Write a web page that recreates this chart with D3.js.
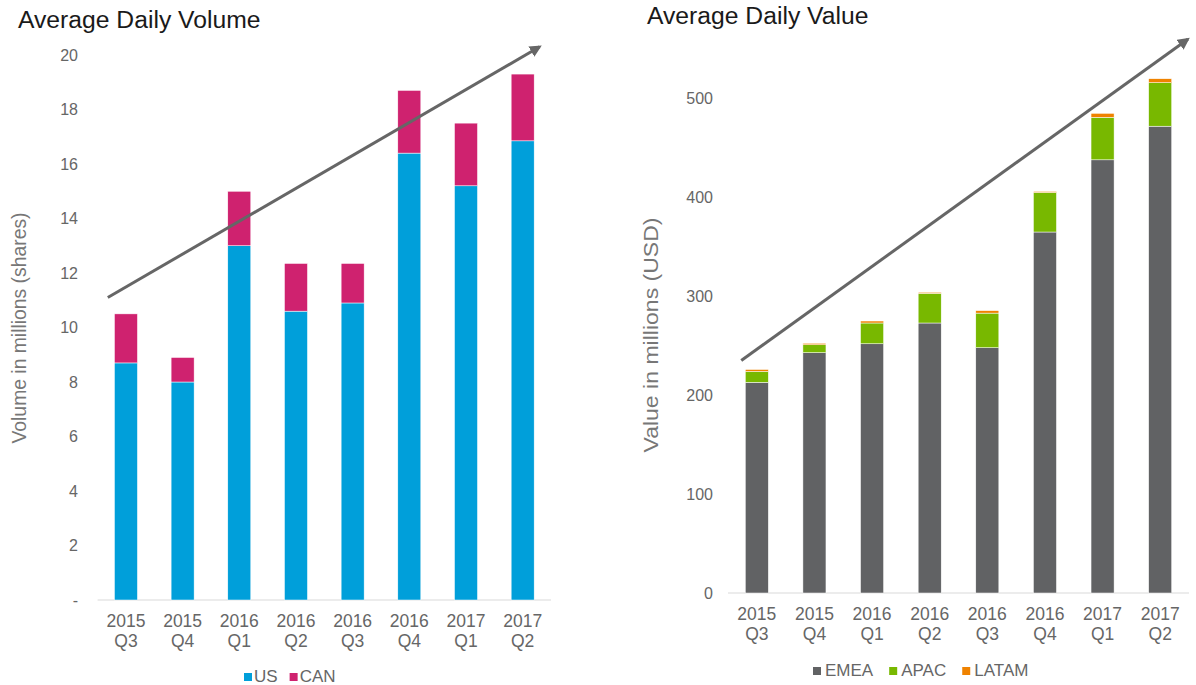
<!DOCTYPE html>
<html lang="en">
  <head>
    <meta charset="UTF-8" />
    <title>Average Daily Volume and Value</title>
    <script src="https://d3js.org/d3.v7.min.js"></script>
    <style>
      body {
        margin: 0;
        background: #fff;
        font-family: "Liberation Sans", Arial, sans-serif;
      }
      .tick text {
        fill: #666;
        font-size: 16px;
      }
    </style>
  </head>
  <body>
    <svg width="1196" height="685"></svg>
    <script>
      const quarters = ["2015 Q3", "2015 Q4", "2016 Q1", "2016 Q2", "2016 Q3", "2016 Q4", "2017 Q1", "2017 Q2"];

      // left chart, millions of shares
      const us = [8.7, 8.0, 13.0, 10.6, 10.9, 16.4, 15.2, 16.85];
      const can = [1.8, 0.9, 2.0, 1.75, 1.45, 2.3, 2.3, 2.45];
      const volumeTicks = [0, 2, 4, 6, 8, 10, 12, 14, 16, 18, 20];

      // right chart, millions of USD
      const emea = [213, 243, 252, 273, 248, 365, 438, 472];
      const apac = [11, 8, 21, 30, 35, 40, 43, 44];
      const latam = [2, 1.5, 2, 1, 2.5, 1, 4, 4];
      const valueTicks = [0, 100, 200, 300, 400, 500];

      // trend arrows: [band index, value]
      const volumeTrend = [[-0.32, 11.1], [7.3, 20.3]];
      const valueTrend = [[-0.27, 235], [7.48, 560]];

      const svg = d3.select("svg");

      svg.append("defs").append("marker")
        .attr("id", "arrow")
        .attr("viewBox", "0 0 10 10")
        .attr("refX", 8).attr("refY", 5)
        .attr("markerWidth", 4).attr("markerHeight", 4)
        .attr("orient", "auto")
        .append("path")
        .attr("d", "M0,0 L10,5 L0,10 z")
        .attr("fill", "#666");

      function drawChart(opt) {
        const g = svg.append("g");
        const x = d3.scaleBand()
          .domain(quarters)
          .range(opt.xRange)
          .paddingInner(opt.pad)
          .paddingOuter(opt.pad / 2);
        const y = d3.scaleLinear().domain([0, opt.max]).range(opt.yRange);

        const rows = quarters.map((q, i) => {
          const r = { q };
          opt.series.forEach((s) => (r[s.key] = s.values[i]));
          return r;
        });
        const stacked = d3.stack().keys(opt.series.map((s) => s.key))(rows);

        // baseline
        g.append("line")
          .attr("x1", opt.xRange[0]).attr("x2", opt.xRange[1])
          .attr("y1", y(0)).attr("y2", y(0))
          .attr("stroke", "#d9d9d9").attr("stroke-width", 1);

        stacked.forEach((layer, k) => {
          g.append("g").selectAll("rect")
            .data(layer)
            .join("rect")
            .attr("x", (d) => x(d.data.q))
            .attr("width", x.bandwidth())
            .attr("y", (d) => y(d[1]))
            .attr("height", (d) => y(d[0]) - y(d[1]))
            .attr("fill", opt.series[k].color)
            .attr("stroke", "#fff")
            .attr("stroke-width", 0.5);
        });

        // y axis
        const ya = g.append("g")
          .attr("transform", `translate(${opt.yAxisX},0)`)
          .call(d3.axisLeft(y).tickValues(opt.ticks).tickSize(0).tickPadding(0).tickFormat(opt.fmt));
        ya.select(".domain").remove();

        // x axis, two-line labels
        const xa = g.append("g")
          .attr("transform", `translate(0,${y(0)})`)
          .call(d3.axisBottom(x).tickSize(0).tickFormat(""));
        xa.select(".domain").remove();
        xa.selectAll(".tick").each(function (d) {
          const parts = d.split(" ");
          const t = d3.select(this).select("text")
            .attr("y", 27).attr("dy", null)
            .attr("fill", "#666").style("font-size", "17.5px");
          t.append("tspan").attr("x", 0).attr("dy", 0).text(parts[0]);
          t.append("tspan").attr("x", 0).attr("dy", 20).text(parts[1]);
        });

        // title
        svg.append("text")
          .attr("x", opt.titleX).attr("y", opt.titleY)
          .attr("font-size", 24.7).attr("fill", "#1a1a1a")
          .text(opt.title);

        // y label
        svg.append("text")
          .attr("transform", `translate(${opt.labelX},${opt.labelY}) rotate(-90)`)
          .attr("text-anchor", "middle")
          .attr("font-size", opt.labelSize).attr("fill", "#777")
          .attr("textLength", opt.labelLength)
          .attr("lengthAdjust", "spacingAndGlyphs")
          .text(opt.yLabel);

        // trend arrow
        const pos = (i) => x(quarters[0]) + x.bandwidth() / 2 + i * x.step();
        g.append("line")
          .attr("x1", pos(opt.trend[0][0])).attr("y1", y(opt.trend[0][1]))
          .attr("x2", pos(opt.trend[1][0])).attr("y2", y(opt.trend[1][1]))
          .attr("stroke", "#666").attr("stroke-width", 3)
          .attr("marker-end", "url(#arrow)");

        // legend
        const leg = svg.append("g").attr("transform", `translate(0,${opt.legendY})`);
        let lx = opt.legendX;
        opt.series.forEach((s) => {
          leg.append("rect").attr("x", lx).attr("y", -9).attr("width", 8).attr("height", 8).attr("fill", s.color);
          const t = leg.append("text").attr("x", lx + opt.legendTextGap).attr("y", 0)
            .attr("font-size", 17).attr("fill", "#666").text(s.key);
          lx += opt.legendTextGap + t.node().getComputedTextLength() + opt.legendItemGap;
        });
      }

      drawChart({
        title: "Average Daily Volume", titleX: 18, titleY: 28,
        yLabel: "Volume in millions (shares)", labelX: 26, labelY: 328,
        labelSize: 20, labelLength: 231,
        xRange: [97.6, 551], pad: 0.594,
        yRange: [600, 55], max: 20,
        ticks: volumeTicks, fmt: (d) => (d === 0 ? "-" : d), yAxisX: 78,
        series: [
          { key: "US", values: us, color: "#009fda" },
          { key: "CAN", values: can, color: "#cf226f" }
        ],
        trend: volumeTrend,
        legendX: 244, legendY: 682, legendTextGap: 10, legendItemGap: 12
      });

      drawChart({
        title: "Average Daily Value", titleX: 647, titleY: 24,
        yLabel: "Value in millions (USD)", labelX: 658, labelY: 335,
        labelSize: 21, labelLength: 235,
        xRange: [728, 1189], pad: 0.6,
        yRange: [593, 98.5], max: 500,
        ticks: valueTicks, fmt: (d) => d, yAxisX: 713,
        series: [
          { key: "EMEA", values: emea, color: "#616264" },
          { key: "APAC", values: apac, color: "#78b800" },
          { key: "LATAM", values: latam, color: "#ef8200" }
        ],
        trend: valueTrend,
        legendX: 813, legendY: 676, legendTextGap: 12, legendItemGap: 16
      });
    </script>
  </body>
</html>
